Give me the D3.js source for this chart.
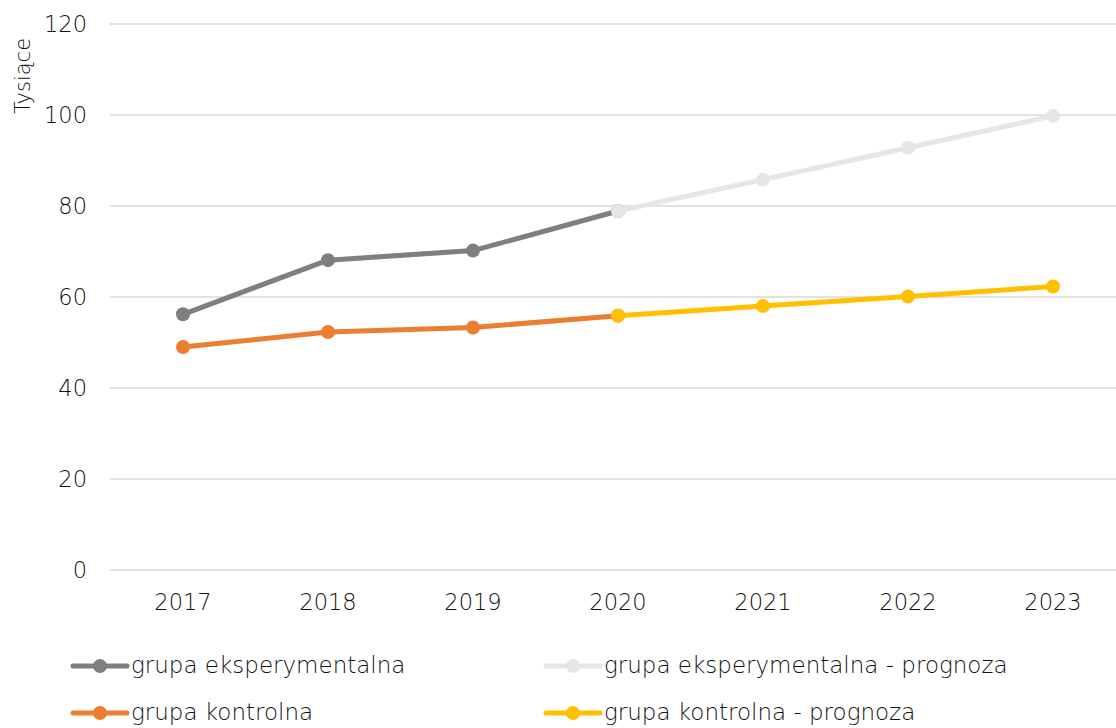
<!DOCTYPE html>
<html><head><meta charset="utf-8">
<script src="https://cdn.jsdelivr.net/npm/d3@7"></script>
<style>body{margin:0;background:#fff}svg{display:block}text{font-family:"DejaVu Sans", sans-serif;font-weight:200;fill:#111}</style>
</head><body><svg id="c" width="1116" height="728"></svg>
<script>
const years = ["2017","2018","2019","2020","2021","2022","2023"];
const yTicks = [0,20,40,60,80,100,120];
const expActual = [56.2, 68.1, 70.2, 78.9, null, null, null];
const ctrlActual = [49.0, 52.3, 53.3, 55.9, null, null, null];
const expForecast = [null, null, null, 78.9, 85.8, 92.8, 99.8];
const ctrlForecast = [null, null, null, 55.9, 58.0, 60.1, 62.3];
const seriesNames = ["grupa eksperymentalna","grupa kontrolna","grupa eksperymentalna - prognoza","grupa kontrolna - prognoza"];
const colors = ["#7f7f7f","#ed7d31","#e7e6e6","#ffc000"];

const svg = d3.select("#c");
const x = d3.scaleBand().domain(years).range([110.5,1125.5]);
const y = d3.scaleLinear().domain([0,120]).range([570,24]);

svg.append("g").selectAll("line").data(yTicks).join("line")
  .attr("x1",110).attr("x2",1116).attr("y1",d=>y(d)).attr("y2",d=>y(d))
  .attr("stroke","#d9d9d9").attr("stroke-width",1.5);
svg.append("g").selectAll("text").data(yTicks).join("text")
  .attr("x",87).attr("y",d=>y(d)+8).attr("text-anchor","end").attr("font-size",22.5).text(d=>d);
svg.append("g").selectAll("text").data(years).join("text")
  .attr("x",d=>x(d)+x.bandwidth()/2).attr("y",610).attr("text-anchor","middle").attr("font-size",22.5).text(d=>d);
svg.append("text").attr("transform","translate(30,76) rotate(-90)").attr("text-anchor","middle").attr("font-size",21).text("Tysiące");

const all = [expActual, ctrlActual, expForecast, ctrlForecast];
const line = d3.line().defined(d=>d.v!=null).x(d=>x(d.k)+x.bandwidth()/2).y(d=>y(d.v));
all.forEach((s,i)=>{
  const data = s.map((v,j)=>({k:years[j],v}));
  const g = svg.append("g");
  g.append("path").datum(data).attr("d",line).attr("fill","none").attr("stroke",colors[i]).attr("stroke-width",5).attr("stroke-linejoin","round");
  g.selectAll("circle").data(data.filter(d=>d.v!=null)).join("circle")
    .attr("cx",d=>x(d.k)+x.bandwidth()/2).attr("cy",d=>y(d.v)).attr("r",7).attr("fill",colors[i]);
});

const leg = [{x:73,y:666},{x:73,y:713},{x:546,y:666},{x:546,y:713}];
seriesNames.forEach((n,i)=>{
  const p = leg[i];
  const g = svg.append("g");
  g.append("line").attr("x1",p.x).attr("x2",p.x+54).attr("y1",p.y).attr("y2",p.y).attr("stroke",colors[i]).attr("stroke-width",5).attr("stroke-linecap","round");
  g.append("circle").attr("cx",p.x+27).attr("cy",p.y).attr("r",7).attr("fill",colors[i]);
  g.append("text").attr("x",p.x+58).attr("y",p.y+7).attr("font-size",23).text(n);
});
</script></body></html>
